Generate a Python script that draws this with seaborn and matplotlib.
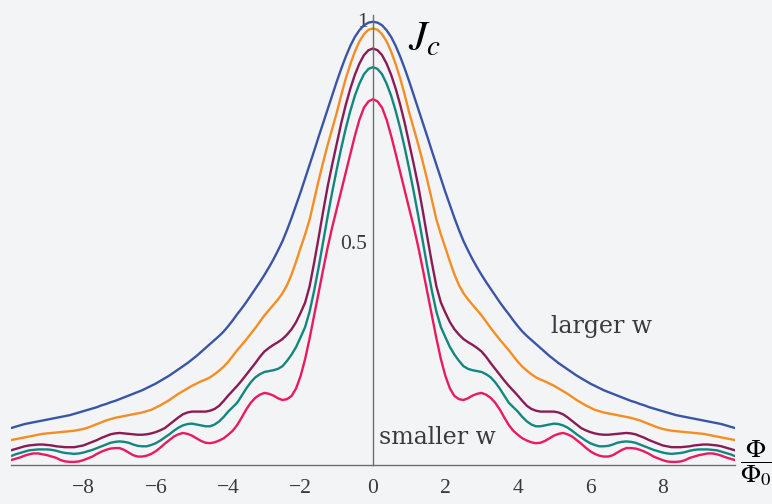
import numpy as np
import pandas as pd
import matplotlib
matplotlib.use("Agg")
import matplotlib.pyplot as plt
import seaborn as sns

# Critical current Jc(Φ/Φ0) for five junction widths, sampled on Φ/Φ0 >= 0
# every 1/8 flux quantum. The pattern is even in flux, so the negative side
# mirrors these samples.
phi_half = np.arange(0, 10.0001, 0.125)

jc_w5 = [0.996, 0.994, 0.988, 0.977, 0.962, 0.942, 0.918, 0.891, 0.862,
         0.831, 0.800, 0.769, 0.738, 0.706, 0.675, 0.644, 0.613, 0.584,
         0.555, 0.528, 0.503, 0.482, 0.462, 0.444, 0.427, 0.411, 0.396,
         0.381, 0.366, 0.352, 0.339, 0.325, 0.312, 0.300, 0.290, 0.281,
         0.272, 0.263, 0.254, 0.245, 0.237, 0.229, 0.222, 0.215, 0.208,
         0.201, 0.195, 0.189, 0.183, 0.178, 0.173, 0.168, 0.164, 0.160,
         0.156, 0.152, 0.148, 0.144, 0.141, 0.137, 0.134, 0.130, 0.127,
         0.124, 0.121, 0.118, 0.115, 0.112, 0.110, 0.108, 0.106, 0.104,
         0.102, 0.100, 0.098, 0.096, 0.094, 0.092, 0.089, 0.086, 0.083]
jc_w4 = [0.981, 0.978, 0.968, 0.952, 0.929, 0.901, 0.869, 0.832, 0.792,
         0.756, 0.720, 0.681, 0.640, 0.596, 0.552, 0.518, 0.488, 0.457,
         0.428, 0.404, 0.386, 0.372, 0.360, 0.348, 0.336, 0.322, 0.308,
         0.295, 0.282, 0.270, 0.258, 0.245, 0.232, 0.221, 0.212, 0.204,
         0.197, 0.192, 0.188, 0.183, 0.178, 0.172, 0.166, 0.160, 0.153,
         0.146, 0.140, 0.134, 0.129, 0.124, 0.121, 0.118, 0.116, 0.114,
         0.112, 0.110, 0.108, 0.106, 0.103, 0.100, 0.096, 0.092, 0.088,
         0.084, 0.081, 0.079, 0.077, 0.076, 0.075, 0.074, 0.073, 0.072,
         0.071, 0.070, 0.068, 0.066, 0.064, 0.062, 0.060, 0.058, 0.056]
jc_w3 = [0.936, 0.932, 0.921, 0.902, 0.877, 0.846, 0.810, 0.769, 0.723,
         0.676, 0.627, 0.571, 0.512, 0.455, 0.402, 0.365, 0.342, 0.321,
         0.305, 0.293, 0.283, 0.276, 0.270, 0.263, 0.255, 0.243, 0.229,
         0.216, 0.203, 0.190, 0.178, 0.167, 0.156, 0.144, 0.133, 0.126,
         0.122, 0.120, 0.120, 0.120, 0.120, 0.118, 0.114, 0.107, 0.099,
         0.091, 0.083, 0.078, 0.074, 0.071, 0.069, 0.068, 0.068, 0.069,
         0.070, 0.071, 0.072, 0.071, 0.069, 0.065, 0.061, 0.056, 0.052,
         0.048, 0.044, 0.042, 0.040, 0.040, 0.040, 0.041, 0.042, 0.044,
         0.045, 0.046, 0.046, 0.045, 0.044, 0.042, 0.039, 0.036, 0.033]
jc_w2 = [0.894, 0.890, 0.878, 0.857, 0.830, 0.796, 0.757, 0.713, 0.665,
         0.614, 0.560, 0.503, 0.445, 0.392, 0.345, 0.310, 0.287, 0.265,
         0.248, 0.234, 0.222, 0.216, 0.213, 0.211, 0.209, 0.204, 0.197,
         0.186, 0.172, 0.156, 0.140, 0.130, 0.120, 0.108, 0.098, 0.091,
         0.087, 0.087, 0.089, 0.091, 0.093, 0.092, 0.089, 0.084, 0.077,
         0.069, 0.062, 0.055, 0.049, 0.045, 0.042, 0.042, 0.043, 0.046,
         0.050, 0.052, 0.053, 0.052, 0.050, 0.046, 0.042, 0.038, 0.034,
         0.031, 0.028, 0.026, 0.025, 0.026, 0.027, 0.029, 0.032, 0.034,
         0.035, 0.035, 0.035, 0.034, 0.033, 0.030, 0.027, 0.024, 0.020]
jc_w1 = [0.822, 0.817, 0.803, 0.776, 0.740, 0.700, 0.658, 0.617, 0.576,
         0.535, 0.490, 0.440, 0.388, 0.336, 0.285, 0.238, 0.200, 0.172,
         0.155, 0.148, 0.146, 0.150, 0.156, 0.160, 0.162, 0.158, 0.151,
         0.140, 0.125, 0.107, 0.090, 0.077, 0.068, 0.060, 0.055, 0.051,
         0.049, 0.050, 0.054, 0.060, 0.066, 0.070, 0.072, 0.069, 0.064,
         0.056, 0.048, 0.039, 0.031, 0.025, 0.021, 0.019, 0.019, 0.022,
         0.028, 0.034, 0.038, 0.038, 0.037, 0.034, 0.030, 0.025, 0.019,
         0.015, 0.011, 0.008, 0.007, 0.007, 0.008, 0.011, 0.016, 0.019,
         0.022, 0.024, 0.026, 0.026, 0.024, 0.021, 0.017, 0.014, 0.011]

widths = ["w5", "w4", "w3", "w2", "w1"]
curves = [jc_w5, jc_w4, jc_w3, jc_w2, jc_w1]
colors = ["#3b55a6", "#f68d22", "#891c55", "#138680", "#ea1a5e"]

x_ticks = [-8, -6, -4, -2, 0, 2, 4, 6, 8]
x_tick_labels = ["\u22128", "\u22126", "\u22124", "\u22122", "0", "2", "4", "6", "8"]
y_ticks = [0.5, 1.0]
y_tick_labels = ["0.5", "1"]


def mirror(v):
    v = np.asarray(v, dtype=float)
    return np.concatenate([v[:0:-1], v])


phi = np.concatenate([-phi_half[:0:-1], phi_half])
frames = [pd.DataFrame({"phi": phi, "jc": mirror(vals), "width": name})
          for name, vals in zip(widths, curves)]
df = pd.concat(frames, ignore_index=True)

BG = "#f3f4f6"
sns.set_style("white", {"axes.facecolor": BG, "figure.facecolor": BG})
plt.rcParams["mathtext.fontset"] = "stix"
plt.rcParams["font.family"] = ["DejaVu Serif"]

W, H = 772, 504
fig = plt.figure(figsize=(W / 100, H / 100), dpi=100, facecolor=BG)
ax = fig.add_axes([11 / W, 39 / H, 724 / W, 449.5 / H])
ax.set_facecolor(BG)

sns.lineplot(data=df, x="phi", y="jc", hue="width", hue_order=widths,
             palette=colors, estimator=None, linewidth=1.7, legend=False,
             ax=ax)
for line in ax.lines:
    line.set_solid_joinstyle("round")

ax.set_xlim(-10, 10)
ax.set_ylim(0, 1.01)
ax.set_xlabel("")
ax.set_ylabel("")

for side in ("top", "right"):
    ax.spines[side].set_visible(False)
ax.spines["left"].set_position(("data", 0))
for side in ("left", "bottom"):
    ax.spines[side].set_color("#6e6e6e")
    ax.spines[side].set_linewidth(1.0)

tick_font = {"family": "Liberation Serif", "size": 15.5}
ax.set_xticks(x_ticks)
ax.set_xticklabels(x_tick_labels, fontdict=tick_font)
ax.set_yticks(y_ticks)
ax.set_yticklabels(y_tick_labels, fontdict=tick_font)
ax.tick_params(axis="x", direction="in", length=4, width=0.8, color="#6e6e6e",
               labelcolor="#3a3a3a", pad=10)
ax.tick_params(axis="y", direction="in", length=4, width=0.8, color="#6e6e6e",
               labelcolor="#3a3a3a", pad=4)


def px(x, y):
    return x / W, 1 - y / H


fig.text(*px(602, 326), "larger w", fontsize=17, color="#3a3a3a",
         ha="center", va="center", family="DejaVu Serif")
fig.text(*px(437, 438), "smaller w", fontsize=17, color="#3a3a3a",
         ha="center", va="center", family="DejaVu Serif")
fig.text(*px(408, 50), r"$J_c$", fontsize=30, color="black",
         ha="left", va="baseline")
fig.text(*px(740, 463), r"$\dfrac{\Phi}{\Phi_0}$", fontsize=19, color="black",
         ha="left", va="center")

fig.savefig("out.png", dpi=100, facecolor=BG)
